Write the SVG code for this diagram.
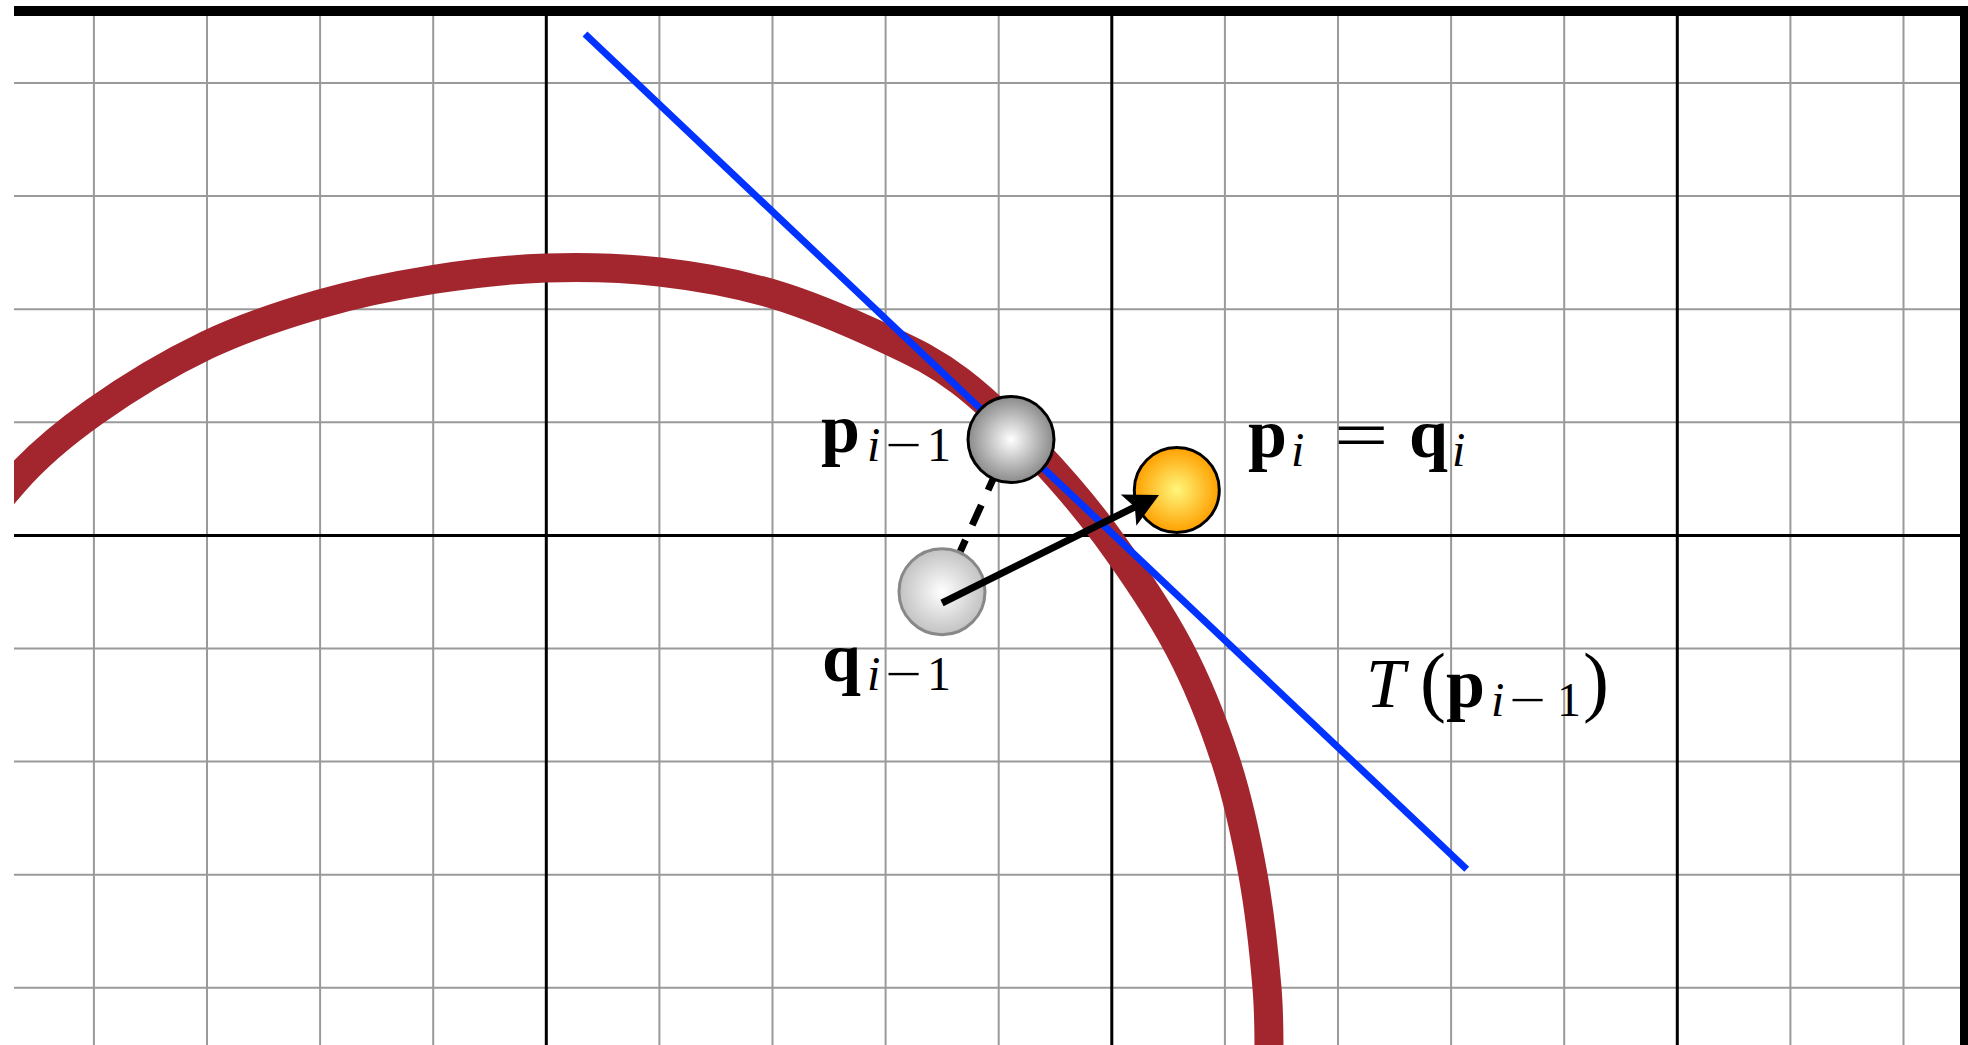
<svg xmlns="http://www.w3.org/2000/svg" width="1968" height="1045" viewBox="0 0 1968 1045">
<style>
.grid{stroke:#9a9a9a;stroke-width:2;fill:none}
.axis{stroke:#000;stroke-width:3;fill:none}
.lbl{font-family:"Liberation Serif","Times New Roman",serif;fill:#000}
.b{font-weight:bold;font-size:70px}
.it{font-style:italic}
.sub{font-size:48px}
.main{font-size:70px}
.par{font-size:78px}
</style>
<defs>
<radialGradient id="gp" cx="0.5" cy="0.5" r="0.5">
<stop offset="0" stop-color="#ffffff"/>
<stop offset="1" stop-color="#8a8a8a"/>
</radialGradient>
<radialGradient id="gq" cx="0.5" cy="0.5" r="0.5">
<stop offset="0" stop-color="#ffffff"/>
<stop offset="1" stop-color="#c2c2c2"/>
</radialGradient>
<radialGradient id="go" cx="0.5" cy="0.5" r="0.5">
<stop offset="0" stop-color="#fff67c"/>
<stop offset="1" stop-color="#ffa000"/>
</radialGradient>
<clipPath id="frame"><rect x="14" y="16" width="1946" height="1029"/></clipPath>
<marker id="head" markerUnits="userSpaceOnUse" viewBox="0 0 38 36" markerWidth="38" markerHeight="36" refX="16" refY="18" orient="auto">
<path d="M36 18 L2 0.5 L9 18 L2 35.5 Z" fill="#000"/>
</marker>
</defs>
<rect x="0" y="0" width="1968" height="1045" fill="#fff"/>
<g id="grid">
<path class="grid" d="M93.9 16V1045M207 16V1045M320.1 16V1045M433.2 16V1045M659.4 16V1045M772.5 16V1045M885.6 16V1045M998.7 16V1045M1224.9 16V1045M1338 16V1045M1451.1 16V1045M1564.2 16V1045M1790.4 16V1045M1903.5 16V1045"/>
<path class="grid" d="M14 83H1960M14 196.1H1960M14 309.2H1960M14 422.3H1960M14 648.5H1960M14 761.6H1960M14 874.7H1960M14 987.8H1960"/>
<path class="axis" d="M546.3 16V1045M1111.8 16V1045M1677.3 16V1045M14 535.4H1960"/>
<rect x="14" y="6" width="1954" height="10" fill="#000"/>
<rect x="1960" y="6" width="8" height="1039" fill="#000"/>
</g>
<g id="curve" clip-path="url(#frame)">
<path d="M-30 535 C-22 525 -15 515.3 14 482 C36 456.7 61.8 434.8 94 412 C126.2 389.2 169.3 363 207 345 C244.7 327 282.3 314.9 320 304 C357.7 293.1 395.3 285.5 433 279.5 C470.7 273.5 508.2 269.25 546 268 C583.8 266.75 622.2 267.7 660 272 C697.8 276.3 735.3 282.8 773 294 C810.7 305.2 854.8 324.5 886 339 C917.2 353.5 935.2 362.3 960 381 C984.8 399.7 1010.7 425.3 1035 451 C1059.3 476.7 1082 502.2 1106 535 C1130 567.8 1159 610.2 1179 648 C1199 685.8 1213.7 724.2 1226 762 C1238.3 799.8 1246.2 837.3 1253 875 C1259.8 912.7 1264.3 955.5 1267 988 C1269.7 1020.5 1268.8 1043 1269 1070" fill="none" stroke="#a3262f" stroke-width="29"/>
</g>
<g id="tangent">
<line x1="585" y1="34" x2="1466.7" y2="869.3" stroke="#0033ff" stroke-width="7"/>
</g>
<g id="connectors">
<line id="dashed" x1="1011" y1="439.6" x2="942" y2="591.7" stroke="#000" stroke-width="7" stroke-dasharray="22 16.4" stroke-dashoffset="4.9"/>
</g>
<g id="node-p-prev">
<circle cx="1011" cy="439.6" r="43" fill="url(#gp)" stroke="#000" stroke-width="3"/>
<text class="lbl"><tspan class="b" x="821" y="452">p</tspan><tspan class="sub it" x="867" y="461">i</tspan><tspan class="sub" x="927" y="461">1</tspan></text>
<text class="lbl sub" transform="translate(885 461) scale(1.35 1)">−</text>
</g>
<g id="node-q-prev">
<circle cx="942" cy="591.7" r="43" fill="url(#gq)" stroke="#888" stroke-width="3"/>
<text class="lbl"><tspan class="b" x="822" y="681">q</tspan><tspan class="sub it" x="867" y="690">i</tspan><tspan class="sub" x="927" y="690">1</tspan></text>
<text class="lbl sub" transform="translate(885 690) scale(1.35 1)">−</text>
</g>
<g id="node-p-i">
<circle cx="1176.8" cy="490" r="42.5" fill="url(#go)" stroke="#000" stroke-width="3"/>
<text class="lbl"><tspan class="b" x="1248" y="457">p</tspan><tspan class="sub it" x="1291" y="466">i</tspan><tspan class="b" x="1409" y="457">q</tspan><tspan class="sub it" x="1452" y="466">i</tspan></text>
<text class="lbl main" transform="translate(1334 459) scale(1.38 1)">=</text>
</g>
<g id="arrow">
<line x1="942" y1="603" x2="1141.1" y2="503.9" stroke="#000" stroke-width="7" marker-end="url(#head)"/>
</g>
<g id="label-tangent">
<text class="lbl"><tspan class="main it" x="1366" y="707">T</tspan><tspan class="par" x="1420" y="707">(</tspan><tspan class="b" x="1446" y="707">p</tspan><tspan class="sub it" x="1491" y="716">i</tspan><tspan class="sub" x="1557" y="716">1</tspan><tspan class="par" x="1583" y="707">)</tspan></text>
<text class="lbl sub" transform="translate(1509 716) scale(1.35 1)">−</text>
</g>
</svg>
